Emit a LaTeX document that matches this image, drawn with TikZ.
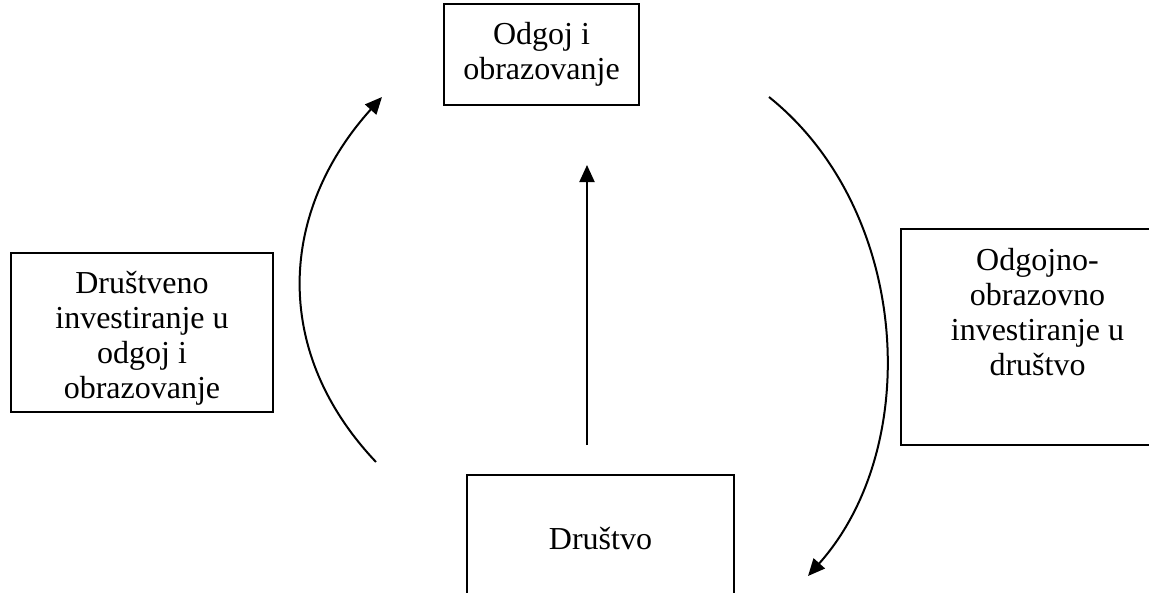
\documentclass[tikz,border=0pt]{standalone}
\usepackage{fontspec}
\setmainfont{Liberation Serif}
\usetikzlibrary{arrows.meta}
\tikzset{
  box/.style={draw, line width=2pt, anchor=north west, inner sep=0pt},
  txt/.style={align=center, inner sep=0pt, anchor=north, font=\fontsize{32}{35}\selectfont},
  flow/.style={line width=2pt, -{Triangle[length=17pt,width=15pt]}}
}
\begin{document}
\begin{tikzpicture}[x=1pt,y=-1pt]
  \useasboundingbox (0,0) rectangle (1149,592);
  \clip (0,0) rectangle (1149,592);
  % boxes
  \node[box, minimum width=195pt, minimum height=101pt] (odgoj) at (443,3) {};
  \node[txt] (odgojT) at ([yshift=-19pt]odgoj.north) {Odgoj i\\obrazovanje};
  \node[box, minimum width=262pt, minimum height=159pt] (drinv) at (10,252) {};
  \node[txt] (drinvT) at ([yshift=-19pt]drinv.north) {Društveno\\investiranje u\\odgoj i\\obrazovanje};
  \node[box, minimum width=275pt, minimum height=216pt] (odinv) at (900,228) {};
  \node[txt] (odinvT) at ([xshift=-1pt,yshift=-20pt]odinv.north) {Odgojno-\\obrazovno\\investiranje u\\društvo};
  \node[box, minimum width=267pt, minimum height=136pt] (drustvo) at (466,474) {};
  \node[txt] (drustvoT) at ([yshift=-53pt]drustvo.north) {Društvo};
  % connector ends
  \coordinate (cs) at (587,445);
  \coordinate (ce) at (587,165);
  \coordinate (ls) at (376,462);
  \coordinate (le) at (382,97);
  \coordinate (rs) at (769,97);
  \coordinate (re) at (808,576);
  % arrows
  \draw[flow] (cs) -- (ce);
  \draw[flow] (ls) .. controls (270,350) and (280,210) .. (le);
  \draw[flow] (rs) .. controls (910,210) and (924,446) .. (re);
\end{tikzpicture}
\end{document}
